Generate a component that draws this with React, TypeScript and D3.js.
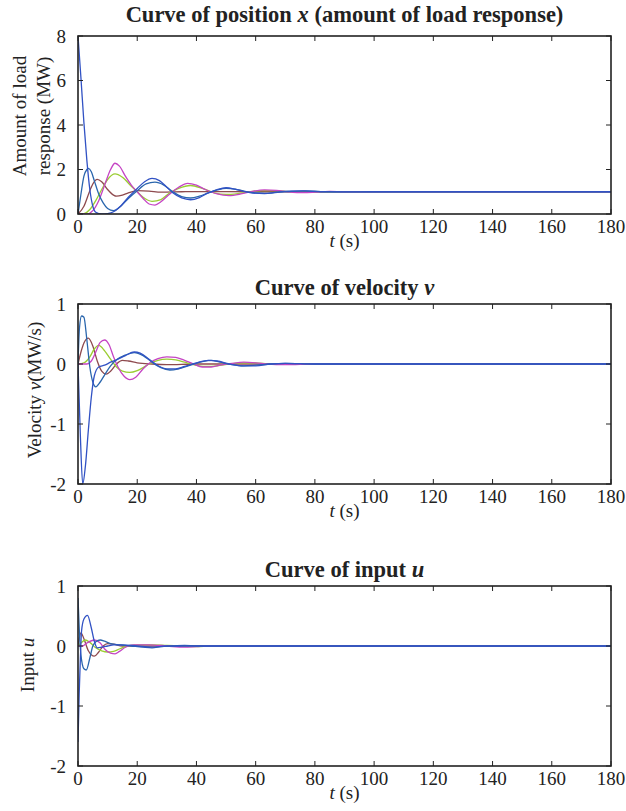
import React from 'react';
import * as d3 from 'd3';

const W = 626;
const H = 811;
const FONT = '"Liberation Serif", "Times New Roman", serif';

const xTicks = [0, 20, 40, 60, 80, 100, 120, 140, 160, 180];
const posTicks = [0, 2, 4, 6, 8];
const velTicks = [-2, -1, 0, 1];
const inTicks = [-2, -1, 0, 1];

const colors = {
  blueA: '#3152c4',
  blueB: '#2a66ad',
  brown: '#8e4a4e',
  green: '#9acd32',
  magenta: '#c544c4',
};

// position x, [t, value]
const posBlueA = [[0, 8], [1, 6.1], [2, 4.1], [3, 2.4], [4, 1.1], [5, 0.35], [6, 0.08], [8, 0.0], [10, 0.02], [12, 0.1], [14, 0.3], [17, 0.75], [20, 1.15], [22.5, 1.45], [25, 1.6], [27.5, 1.5], [30, 1.2], [32, 0.95], [35, 0.72], [38, 0.64], [41, 0.74], [44, 0.95], [47, 1.1], [50, 1.18], [53, 1.12], [56, 1.02], [59, 0.94], [63, 0.92], [67, 0.98], [71, 1.03], [76, 1.04], [82, 1.0], [90, 0.99], [100, 1.0], [180, 1.0]];
const posBlueB = [[0, 0], [1, 0.9], [2, 1.7], [3, 2.0], [3.5, 2.05], [4.5, 1.9], [5.5, 1.5], [7, 0.9], [8.5, 0.5], [10, 0.25], [12, 0.15], [14, 0.3], [17, 0.7], [20, 1.05], [23, 1.35], [26, 1.43], [29, 1.3], [32, 1.0], [35, 0.78], [38, 0.72], [41, 0.8], [44, 0.95], [47, 1.08], [50, 1.15], [53, 1.12], [56, 1.03], [60, 0.95], [64, 0.93], [68, 0.98], [72, 1.02], [77, 1.04], [82, 1.01], [90, 0.99], [100, 1.0], [180, 1.0]];
const posBrown = [[0, 0], [2, 0.35], [4, 1.05], [5, 1.35], [6.5, 1.56], [8, 1.45], [10, 1.1], [12, 0.85], [13, 0.8], [15, 0.85], [17, 0.95], [20, 1.05], [24, 1.03], [28, 0.98], [35, 1.0], [40, 1.01], [60, 1.0], [180, 1.0]];
const posGreen = [[0, 0], [2, 0.02], [4, 0.2], [6, 0.6], [8, 1.1], [10, 1.55], [12.5, 1.8], [15, 1.65], [18, 1.25], [20, 1.0], [22, 0.75], [25, 0.57], [28, 0.65], [31, 0.95], [34, 1.15], [38, 1.28], [42, 1.15], [46, 0.95], [50, 0.88], [54, 0.92], [58, 1.0], [62, 1.05], [66, 1.05], [70, 1.02], [80, 0.98], [90, 1.0], [180, 1.0]];
const posMagenta = [[0, 0], [3, 0.0], [5, 0.15], [7, 0.6], [9, 1.3], [11, 2.0], [12.5, 2.28], [14, 2.15], [16, 1.7], [18, 1.3], [20, 1.0], [22, 0.7], [24, 0.45], [26, 0.4], [28, 0.55], [31, 0.9], [34, 1.2], [37, 1.38], [40, 1.3], [43, 1.1], [47, 0.9], [51, 0.83], [55, 0.9], [59, 1.02], [63, 1.08], [67, 1.06], [71, 1.0], [76, 0.96], [80, 0.98], [85, 1.02], [90, 1.0], [180, 1.0]];

// velocity v
const velBlueA = [[0, 0], [0.8, -1.2], [1.6, -2.0], [2.5, -1.7], [3.5, -1.1], [4.5, -0.55], [5.5, -0.2], [7, -0.05], [9, -0.02], [11, 0.03], [13, 0.07], [16, 0.14], [19, 0.2], [21, 0.18], [24, 0.08], [27, -0.03], [30, -0.08], [33, -0.08], [36, -0.04], [40, 0.02], [44, 0.06], [47, 0.05], [51, 0.0], [55, -0.03], [60, -0.03], [65, 0.0], [70, 0.01], [80, 0], [180, 0]];
const velBlueB = [[0, 0], [0.5, 0.6], [1.2, 0.8], [2, 0.78], [3, 0.4], [4, -0.05], [5, -0.3], [6, -0.38], [7.5, -0.3], [9, -0.18], [11, -0.03], [13, 0.07], [16, 0.15], [19, 0.19], [22, 0.14], [25, 0.03], [28, -0.06], [31, -0.1], [34, -0.08], [38, -0.02], [42, 0.04], [45, 0.06], [48, 0.03], [52, -0.01], [56, -0.03], [60, -0.02], [65, 0.0], [70, 0.01], [80, 0], [180, 0]];
const velBrown = [[0, 0], [1, 0.2], [2, 0.35], [3.5, 0.43], [5, 0.3], [6.5, 0.05], [8, -0.12], [9.5, -0.17], [11, -0.12], [13, 0.0], [15, 0.06], [17, 0.05], [20, 0.02], [25, 0.0], [30, -0.01], [40, 0], [180, 0]];
const velGreen = [[0, 0], [2, 0.02], [4, 0.12], [5.5, 0.25], [7, 0.31], [9, 0.22], [11, 0.08], [13, -0.05], [15, -0.12], [17.5, -0.14], [20, -0.11], [22, -0.06], [24, 0.0], [27, 0.06], [30, 0.08], [33, 0.07], [36, 0.03], [39, -0.01], [43, -0.04], [47, -0.03], [51, 0.0], [55, 0.02], [60, 0.02], [65, 0.0], [180, 0]];
const velMagenta = [[0, 0], [3, 0.0], [4.5, 0.05], [6, 0.2], [7.5, 0.36], [9, 0.4], [10.5, 0.32], [12, 0.12], [13.5, -0.05], [15.5, -0.2], [17.5, -0.26], [19.5, -0.22], [22, -0.08], [24.5, 0.03], [27, 0.09], [30, 0.12], [33, 0.11], [36, 0.06], [39, 0.0], [42, -0.05], [45, -0.05], [48, -0.02], [52, 0.01], [56, 0.03], [60, 0.02], [64, 0.0], [70, -0.01], [80, 0], [180, 0]];

// input u
const inBlueA = [[0, -1.6], [0.4, -0.8], [0.8, -0.2], [1.2, 0.25], [2, 0.45], [3.2, 0.51], [4.5, 0.3], [5.5, 0.08], [6.5, -0.03], [8, -0.02], [10, 0.0], [12, 0.02], [15, 0.02], [20, 0.0], [25, -0.02], [30, 0.0], [180, 0]];
const inBlueB = [[0, 0.8], [0.5, 0.2], [1, -0.15], [2, -0.38], [2.8, -0.4], [4, -0.2], [5, 0.0], [6, 0.07], [7.5, 0.1], [9, 0.08], [11, 0.04], [14, 0.02], [18, 0.0], [22, -0.02], [25, -0.03], [28, -0.01], [32, 0.0], [36, 0.01], [40, 0.0], [180, 0]];
const inBrown = [[0, 0], [0.5, 0.15], [1, 0.22], [2, 0.12], [3.5, -0.08], [5.5, -0.17], [7, -0.1], [8.5, 0.0], [10, 0.04], [12, 0.03], [15, 0.0], [180, 0]];
const inGreen = [[0, 0], [1, 0.05], [2.5, 0.1], [4, 0.06], [6, -0.03], [8, -0.08], [10, -0.1], [12, -0.09], [14, -0.05], [16, -0.01], [20, 0.02], [25, 0.02], [30, 0.01], [35, 0.0], [40, -0.01], [45, 0], [180, 0]];
const inMagenta = [[0, 0], [1.5, 0.0], [3, 0.05], [5.5, 0.1], [7.5, 0.05], [9, -0.05], [11, -0.12], [12.5, -0.13], [14, -0.09], [16, -0.02], [19, 0.02], [24, 0.02], [30, 0.0], [36, -0.02], [40, -0.01], [45, 0.0], [180, 0]];

const left = 78;
const right = 611;

type Series = { data: number[][]; color: string };

function Panel({ top, bottom, titleY, yDomain, yTicks, series, title, ylabel }: any) {
  const x = d3.scaleLinear().domain([0, 180]).range([left, right]);
  const y = d3.scaleLinear().domain(yDomain).range([bottom, top]);
  const line = d3
    .line<number[]>()
    .x((d) => x(d[0]))
    .y((d) => y(d[1]))
    .curve(d3.curveMonotoneX);
  const tk = 5;
  return (
    <g>
      <defs>
        <clipPath id={'clip' + top}>
          <rect x={left} y={top} width={right - left} height={bottom - top} />
        </clipPath>
      </defs>
      <g clipPath={`url(#clip${top})`}>
        {series.map((s: Series, i: number) => (
          <path key={i} d={line(s.data) || ''} fill="none" stroke={s.color} strokeWidth={1.3} />
        ))}
      </g>
      <rect x={left} y={top} width={right - left} height={bottom - top} fill="none" stroke="#222" strokeWidth={1.6} />
      {xTicks.map((t) => (
        <g key={'x' + t}>
          <line x1={x(t)} x2={x(t)} y1={bottom} y2={bottom - tk} stroke="#222" />
          <line x1={x(t)} x2={x(t)} y1={top} y2={top + tk} stroke="#222" />
          <text x={x(t)} y={bottom + 19} textAnchor="middle" fontSize={19} fill="#222">
            {t}
          </text>
        </g>
      ))}
      {yTicks.map((t: number) => (
        <g key={'y' + t}>
          <line x1={left} x2={left + tk} y1={y(t)} y2={y(t)} stroke="#222" />
          <line x1={right} x2={right - tk} y1={y(t)} y2={y(t)} stroke="#222" />
          <text x={left - 12} y={y(t)} dy="0.35em" textAnchor="end" fontSize={19} fill="#222">
            {t}
          </text>
        </g>
      ))}
      <text x={(left + right) / 2} y={bottom + 33} textAnchor="middle" fontSize={19} fill="#222">
        <tspan fontStyle="italic">t</tspan> (s)
      </text>
      <text x={(left + right) / 2} y={titleY} textAnchor="middle" fontSize={22.5} fontWeight="bold" fill="#222">
        {title[0]}
        <tspan fontStyle="italic">{title[1]}</tspan>
        {title[2]}
      </text>
      {ylabel}
    </g>
  );
}

export default function App() {
  return (
    <svg
      width={W}
      height={H}
      style={{ position: 'absolute', left: 0, top: 0, background: '#fff', fontFamily: FONT }}
    >
      <Panel
        top={36}
        bottom={214}
        titleY={22}
        yDomain={[0, 8]}
        yTicks={posTicks}
        title={['Curve of position ', 'x', ' (amount of load response)']}
        series={[
          { data: posBrown, color: colors.brown },
          { data: posGreen, color: colors.green },
          { data: posMagenta, color: colors.magenta },
          { data: posBlueB, color: colors.blueB },
          { data: posBlueA, color: colors.blueA },
        ]}
        ylabel={
          <text transform="translate(0,116) rotate(-90)" textAnchor="middle" fontSize={19} fill="#222">
            <tspan x={0} y={26}>Amount of load</tspan>
            <tspan x={0} y={50}>response (MW)</tspan>
          </text>
        }
      />
      <Panel
        top={304}
        bottom={484}
        titleY={295}
        yDomain={[-2, 1]}
        yTicks={velTicks}
        title={['Curve of velocity ', 'v', '']}
        series={[
          { data: velBrown, color: colors.brown },
          { data: velGreen, color: colors.green },
          { data: velMagenta, color: colors.magenta },
          { data: velBlueB, color: colors.blueB },
          { data: velBlueA, color: colors.blueA },
        ]}
        ylabel={
          <text transform="translate(0,390) rotate(-90)" textAnchor="middle" fontSize={19} fill="#222">
            <tspan x={0} y={41}>Velocity <tspan fontStyle="italic">v</tspan>(MW/s)</tspan>
          </text>
        }
      />
      <Panel
        top={586}
        bottom={766}
        titleY={577}
        yDomain={[-2, 1]}
        yTicks={inTicks}
        title={['Curve of input ', 'u', '']}
        series={[
          { data: inBrown, color: colors.brown },
          { data: inGreen, color: colors.green },
          { data: inMagenta, color: colors.magenta },
          { data: inBlueB, color: colors.blueB },
          { data: inBlueA, color: colors.blueA },
        ]}
        ylabel={
          <text transform="translate(0,665) rotate(-90)" textAnchor="middle" fontSize={19} fill="#222">
            <tspan x={0} y={34}>Input <tspan fontStyle="italic">u</tspan></tspan>
          </text>
        }
      />
    </svg>
  );
}
